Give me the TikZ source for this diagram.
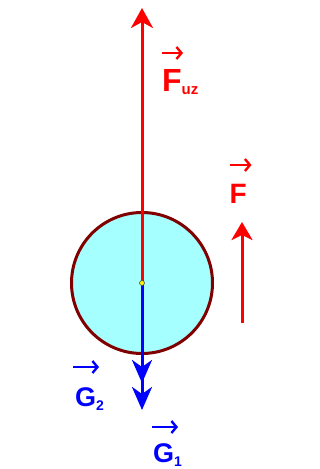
\documentclass[tikz,border=0pt]{standalone}
\usepackage{fontspec}
\setmainfont{Liberation Sans}
\usetikzlibrary{arrows.meta}
\definecolor{ballfill}{HTML}{A6FFFF}
\definecolor{balledge}{HTML}{800000}
\begin{document}
\begin{tikzpicture}[x=1pt,y=-1pt,
  redarrow/.style={draw=red, line width=3pt, -{Stealth[length=20pt,width=22pt,inset=6pt]}},
  redarrowsmall/.style={draw=red, line width=3pt, -{Stealth[length=18pt,width=21pt,inset=5pt]}},
  bluearrow/.style={draw=blue, line width=3pt, -{Stealth[length=23pt,width=20pt,inset=7pt]}},
  vecmark/.style={line width=2.4pt, -{Straight Barb[length=5pt,width=12pt]}},
  biglbl/.style={inner sep=0pt, anchor=base west, font=\bfseries\fontsize{32}{32}\selectfont},
  midlbl/.style={inner sep=0pt, anchor=base west, font=\bfseries\fontsize{28}{28}\selectfont},
  glbl/.style={inner sep=0pt, anchor=base west, font=\bfseries\fontsize{27}{27}\selectfont, text=blue}]
\useasboundingbox (0,0) rectangle (320,469);
% ball
\node[circle, draw=balledge, fill=ballfill, line width=3pt, minimum size=141pt, inner sep=0pt] (ball) at (142,283) {};
\coordinate (O) at (142,283);
\coordinate (fuzend) at (142,8);
\coordinate (g2end) at (142,383);
\coordinate (g1end) at (142,410);
\coordinate (fbot) at (242,323);
\coordinate (ftop) at (242,222);
% forces
\draw[redarrow] (O) -- (fuzend);
\draw[bluearrow] (O) -- (g1end);
\draw[bluearrow] (O) -- (g2end);
\draw[redarrowsmall] (fbot) -- (ftop);
% centre dot
\node[circle, fill=yellow, draw=black!70, line width=0.6pt, inner sep=0pt, minimum size=5pt] (dot) at (O) {};
% labels
\node[biglbl, text=red] (fuz) at (162,91) {F\raisebox{-3pt}{\fontsize{15}{15}\selectfont uz}};
\draw[vecmark, red] ([shift={(0,-38)}]fuz.base west) -- ++(21,0);
\node[midlbl, text=red] (f) at (229.5,203) {F};
\draw[vecmark, red] ([shift={(0,-38)}]f.base west) -- ++(22,0);
\node[glbl] (g2) at (75,406) {G\raisebox{-4pt}{\fontsize{14}{14}\selectfont 2}};
\draw[vecmark, blue] ([shift={(-2,-39)}]g2.base west) -- ++(26,0);
\node[glbl] (g1) at (153,462) {G\raisebox{-4pt}{\fontsize{14}{14}\selectfont 1}};
\draw[vecmark, blue] ([shift={(-1,-35)}]g1.base west) -- ++(26,0);
\end{tikzpicture}
\end{document}
